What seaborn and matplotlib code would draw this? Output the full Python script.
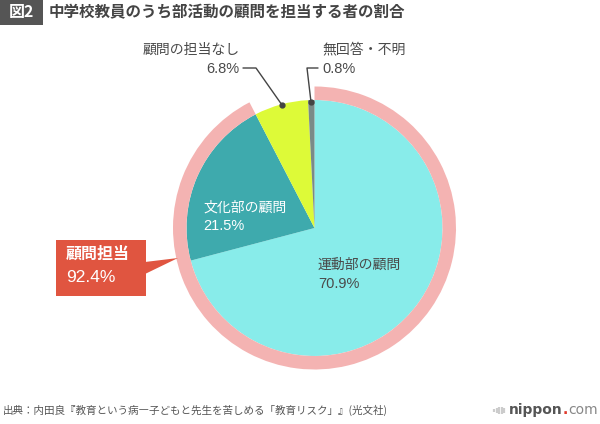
import matplotlib
matplotlib.use("Agg")
import matplotlib.pyplot as plt
import seaborn as sns
from matplotlib.patches import Rectangle, Polygon

sns.set_theme(style="white")
plt.rcParams['font.family'] = ['Noto Sans CJK JP', 'DejaVu Sans']

# ---- data ----
categories = ["運動部の顧問", "文化部の顧問", "顧問の担当なし", "無回答・不明"]
values = [70.9, 21.5, 6.8, 0.8]
pct_labels = ["70.9%", "21.5%", "6.8%", "0.8%"]
ring_label = "顧問担当"
ring_values = [92.4, 7.6]
ring_pct = "92.4%"
title_tag = "図2"
title = "中学校教員のうち部活動の顧問を担当する者の割合"
source = "出典：内田良『教育という病―子どもと先生を苦しめる「教育リスク」』(光文社)"

colors = ["#88ECEA", "#3EAAAD", "#DDFA38", "#7A8A88"]
ring_color = "#F4B3B2"
red = "#E05540"
txt = "#4a4a4a"
num_font = ['Liberation Sans', 'DejaVu Sans']

fig = plt.figure(figsize=(6, 4.24), dpi=100)
ax = fig.add_axes([0, 0, 1, 1])

cx, cy = 314.5, 228
r_in = 128
r_out = 141.5

# inner pie (y axis inverted -> counterclock in data = clockwise on screen)
ax.pie(values, colors=colors, startangle=-90, counterclock=True,
       radius=r_in, center=(cx, cy), frame=True,
       wedgeprops=dict(linewidth=0))
# outer ring
ax.pie(ring_values, colors=[ring_color, (1, 1, 1, 0)], startangle=-90, counterclock=True,
       radius=r_out, center=(cx, cy), frame=True,
       wedgeprops=dict(width=r_out - r_in, linewidth=0))

ax.set_xlim(0, 600)
ax.set_ylim(424, 0)
ax.set_aspect('equal')
ax.axis('off')

# slice labels
ax.text(318, 265, categories[0], color=txt, fontsize=10, va='center', ha='left')
ax.text(318, 284, pct_labels[0], color=txt, fontsize=10.5, va='center', ha='left',
        family=num_font)
ax.text(203, 208, categories[1], color='white', fontsize=10, va='center', ha='left')
ax.text(203, 226, pct_labels[1], color='white', fontsize=10.5, va='center', ha='left',
        family=num_font)

ax.text(240, 50, categories[2], color=txt, fontsize=10, va='center', ha='right')
ax.text(239, 69, pct_labels[2], color=txt, fontsize=10.5, va='center', ha='right',
        family=num_font)
ax.text(322, 49, categories[3], color=txt, fontsize=10, va='center', ha='left')
ax.text(322, 69, pct_labels[3], color=txt, fontsize=10.5, va='center', ha='left',
        family=num_font)

# leader lines
ax.plot([243, 256, 282], [68, 68, 105], color='#444444', lw=1)
ax.plot([282], [105], 'o', color='#444444', ms=3.5)
ax.plot([318, 307, 311], [68, 68, 102], color='#444444', lw=1)
ax.plot([311], [102], 'o', color='#444444', ms=3.5)

# red callout box
ax.add_patch(Rectangle((56, 240), 90, 56, facecolor=red, edgecolor='none'))
ax.add_patch(Polygon([[145, 262], [178, 258], [145, 274]], closed=True,
                     facecolor=red, edgecolor='none'))
ax.text(66, 254, ring_label, color='white', fontsize=11.5, fontweight='bold',
        va='center', ha='left')
ax.text(66, 278, ring_pct, color='white', fontsize=12.5, va='center', ha='left',
        family=num_font)

# title
ax.add_patch(Rectangle((0, 0), 43, 25, facecolor='#555555', edgecolor='none'))
ax.text(21.5, 12.5, title_tag, color='white', fontsize=11.5, fontweight='bold',
        va='center', ha='center')
ax.text(49, 12.5, title, color='#444444', fontsize=11.2, fontweight='bold',
        va='center', ha='left')

# footer
ax.text(3, 410, source, color='#555555', fontsize=7.6, va='center', ha='left')

# logo
for x0, h in [(494, 3), (496.5, 5), (499, 7), (501.5, 7), (504, 5)]:
    ax.plot([x0, x0], [410 - h / 2, 410 + h / 2], color='#cccccc', lw=1.6,
            solid_capstyle='butt')
renderer = fig.canvas.get_renderer()
x = 509
for s, c, w in [("nippon", '#555555', 'bold'), (".", '#e0392b', 'bold'),
                ("com", '#888888', 'normal')]:
    t = ax.text(x, 410, s, color=c, fontsize=10, fontweight=w,
                va='center', ha='left', family='DejaVu Sans')
    bb = t.get_window_extent(renderer=renderer)
    x += bb.width + 0.2

fig.savefig("out.png", dpi=100)
